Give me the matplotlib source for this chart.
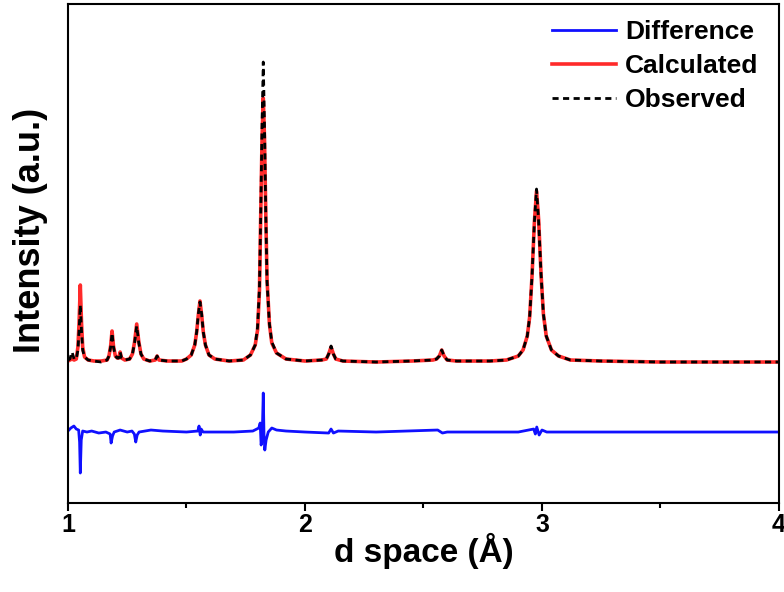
import matplotlib
matplotlib.use("Agg")
import matplotlib.pyplot as plt
from matplotlib.ticker import MultipleLocator

plt.rcParams["font.family"] = ["Liberation Sans", "DejaVu Sans"]
plt.rcParams["font.weight"] = "bold"

# d spacing grid shared by observed and calculated profiles (Å)
d_space = [
    1.000, 1.008, 1.017, 1.026, 1.035, 1.042, 1.047, 1.052, 1.057, 1.062, 1.070,
    1.085, 1.110, 1.140, 1.165, 1.173, 1.180, 1.186, 1.192, 1.200, 1.208, 1.214,
    1.220, 1.226, 1.240, 1.260, 1.272, 1.281, 1.290, 1.299, 1.308, 1.320, 1.345,
    1.368, 1.376, 1.384, 1.420, 1.480, 1.500, 1.520, 1.535, 1.543, 1.550, 1.557,
    1.564, 1.571, 1.580, 1.595, 1.620, 1.680, 1.740, 1.770, 1.790, 1.800, 1.808,
    1.8135, 1.819, 1.824, 1.829, 1.8345, 1.840, 1.850, 1.860, 1.880, 1.920, 2.000,
    2.070, 2.090, 2.100, 2.110, 2.120, 2.130, 2.160, 2.300, 2.450, 2.540, 2.555,
    2.567, 2.577, 2.587, 2.600, 2.640, 2.780, 2.850, 2.900, 2.920, 2.938, 2.948,
    2.958, 2.968, 2.977, 2.986, 2.996, 3.006, 3.018, 3.040, 3.070, 3.120, 3.250,
    3.500, 3.800, 4.000,
]

observed = [
    2, 3, 10, 3, 3, 12, 32, 57, 32, 12, 5,
    2, 1, 0, 2, 6, 15, 29, 15, 6, 4, 4,
    10, 4, 2, 3, 8, 19, 36, 19, 8, 3, 1,
    2, 6, 2, 1, 1, 3, 7, 17, 30, 48, 60,
    48, 30, 17, 7, 3, 1, 2, 7, 17, 35, 75,
    150, 240, 300, 240, 150, 80, 38, 20, 9, 3, 1,
    2, 3, 8, 16, 8, 3, 1, 0, 1, 2, 3,
    6, 12, 6, 2, 1, 1, 2, 6, 12, 26, 45,
    86, 140, 173, 140, 88, 48, 26, 12, 6, 2, 1,
    0, 0, 0,
]

calculated = [
    1, 2, 3, 2, 3, 15, 40, 77, 40, 15, 5,
    2, 1, 1, 2, 6, 16, 31, 16, 6, 4, 4,
    10, 4, 2, 3, 8, 20, 38, 20, 8, 3, 1,
    2, 6, 2, 1, 1, 3, 7, 17, 30, 47, 61,
    47, 30, 17, 7, 3, 1, 2, 7, 17, 32, 72,
    150, 225, 264, 225, 150, 82, 38, 19, 9, 3, 1,
    2, 3, 8, 15, 8, 3, 1, 0, 1, 2, 3,
    6, 12, 6, 2, 1, 1, 2, 6, 12, 26, 45,
    86, 140, 171, 142, 88, 48, 26, 12, 6, 2, 1,
    0, 0, 0,
]

# difference curve (observed - calculated), own grid
d_diff = [
    1.000, 1.012, 1.025, 1.035, 1.045, 1.049, 1.052, 1.056, 1.062, 1.080, 1.100,
    1.130, 1.160, 1.178, 1.182, 1.188, 1.195, 1.220, 1.250, 1.270, 1.280, 1.286,
    1.292, 1.300, 1.350, 1.400, 1.500, 1.548, 1.553, 1.558, 1.562, 1.570, 1.700,
    1.780, 1.805, 1.811, 1.815, 1.8195, 1.824, 1.827, 1.8305, 1.836, 1.845, 1.860,
    1.880, 1.920, 2.000, 2.100, 2.110, 2.120, 2.140, 2.300, 2.560, 2.580, 2.600,
    2.900, 2.965, 2.972, 2.978, 2.988, 3.000, 3.020, 3.300, 3.700, 4.000,
]

difference = [
    1, 4, 6, 3, 2, -10, -41, -8, 1, 0, 1,
    -1, 0, -2, -11, -4, 0, 2, 0, 1, -2, -10,
    -3, 0, 2, 1, 0, 1, 6, -3, 3, 0, 0,
    1, 4, 9, -13, -5, 39, -2, -18, -8, 0, 4,
    2, 1, 0, -1, 3, -1, 1, 0, 2, -1, 0,
    0, 3, -2, 5, -3, 2, 0, 0, 0, 0,
]

diff_offset = -70

fig = plt.figure(figsize=(7.84, 5.92), dpi=100)
ax = fig.add_axes([0.0867, 0.1503, 0.9069, 0.8429])

diff_y = [v + diff_offset for v in difference]
ax.plot(d_diff, diff_y, color="#1010ff", lw=2.0, label="Difference")
ax.plot(d_space, calculated, color="#ff2a2a", lw=2.6, label="Calculated")
ax.plot(d_space, observed, color="black", lw=2.0, linestyle=(0, (2.2, 1.6)),
        label="Observed")

ax.set_xlim(1, 4)
ax.set_ylim(-141, 358)

ax.xaxis.set_major_locator(MultipleLocator(1))
ax.xaxis.set_minor_locator(MultipleLocator(0.5))
ax.tick_params(axis="x", which="major", direction="out", length=6, width=1.5,
               labelsize=18, pad=1)
ax.tick_params(axis="x", which="minor", direction="out", length=3.5, width=1.5)
ax.set_yticks([])
for spine in ax.spines.values():
    spine.set_linewidth(1.5)

ax.set_xlabel("d space (Å)", fontsize=24, fontweight="bold", labelpad=-3)
ax.set_ylabel("Intensity (a.u.)", fontsize=26, fontweight="bold")
ax.yaxis.set_label_coords(-0.028, 0.547)

ax.legend(loc="upper right", frameon=False, fontsize=19, handlelength=2.4,
          handletextpad=0.35, labelspacing=0.38, borderaxespad=0.2,
          bbox_to_anchor=(0.993, 1.0))

fig.savefig("out.png", dpi=100)
plt.close(fig)
